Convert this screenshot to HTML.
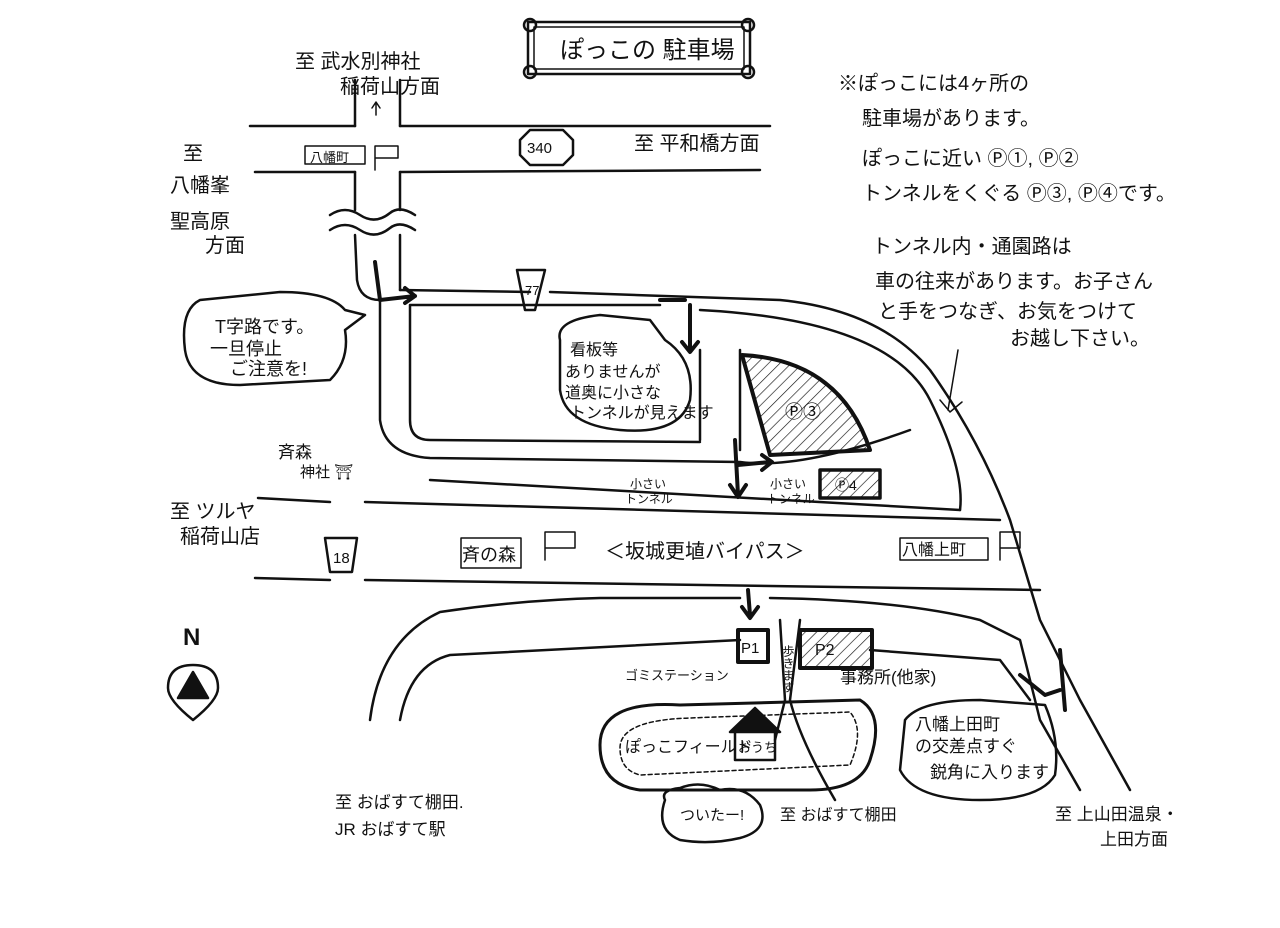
<!DOCTYPE html>
<html><head><meta charset="utf-8"><style>
html,body{margin:0;padding:0;background:#fff;}
svg{display:block}
text{font-family:"Liberation Sans","Noto Sans CJK JP",sans-serif;fill:#111;}
</style></head><body>
<svg width="1280" height="928" viewBox="0 0 1280 928" xmlns="http://www.w3.org/2000/svg">
<defs>
<pattern id="h" width="8" height="8" patternUnits="userSpaceOnUse" patternTransform="rotate(45)">
<line x1="0" y1="0" x2="0" y2="8" stroke="#111" stroke-width="1.3"/>
</pattern>
</defs>
<g fill="none" stroke="#111" stroke-width="2.5" stroke-linecap="round" stroke-linejoin="round">
<rect x="528" y="22" width="222" height="52"/>
<rect x="534" y="27" width="210" height="42" stroke-width="1.5"/>
<circle cx="530" cy="25" r="6"/><circle cx="748" cy="25" r="6"/><circle cx="530" cy="72" r="6"/><circle cx="748" cy="72" r="6"/>
<path d="M250 126 L355 126 M400 126 L770 126"/>
<path d="M255 172 L355 172 M400 172 L760 170"/>
<path d="M355 80 L355 126 M400 80 L400 126"/>
<path d="M355 172 L355 210 M355 235 L357 280 Q360 300 380 300"/>
<path d="M400 172 L400 210 M400 235 L400 290"/>
<path d="M330 215 Q345 205 360 215 Q375 225 390 213 Q400 205 415 215"/>
<path d="M330 230 Q345 220 360 230 Q375 240 390 228 Q400 220 415 230"/>
<path d="M400 290 L530 292 M550 292 L780 300 Q880 310 930 370 Q980 440 1010 520 L1040 620 Q1060 660 1080 700 L1130 790"/>
<path d="M380 300 L380 420 Q385 455 430 458 L740 462 Q800 470 910 430"/>
<path d="M410 305 L660 305 M410 305 L410 420 Q410 440 430 440 L700 442"/>
<path d="M700 310 Q890 320 930 400 Q965 470 960 510"/>
<path d="M700 350 L700 440 M740 350 L740 450"/>
<path d="M430 480 L960 510"/>
<path d="M258 498 L330 502 M365 502 L1000 520"/>
<path d="M255 578 L330 580 M365 580 L1040 590"/>
<path d="M370 720 Q380 640 440 612 Q520 600 600 598 L740 598 M770 598 Q900 600 980 620 L1020 640 L1040 720 L1080 790"/>
<path d="M400 720 Q410 665 450 655 L740 640 M870 650 L1000 660 L1030 700"/>
<path d="M780 620 L785 700 L775 740 M800 620 L790 700 Q800 740 835 800"/>
<path d="M742 355 Q840 360 870 450 L770 455 Z" stroke-width="4" fill="url(#h)"/>
<rect x="820" y="470" width="60" height="28" stroke-width="3.5" fill="url(#h)"/>
<rect x="738" y="630" width="30" height="32" stroke-width="4"/>
<rect x="800" y="630" width="72" height="38" stroke-width="4" fill="url(#h)"/>
<path d="M600 745 Q600 700 680 705 L860 700 Q885 715 870 760 Q860 790 810 790 L640 790 Q600 785 600 745 Z" stroke-width="3"/>
<path d="M620 748 Q620 720 690 718 L850 712 Q865 730 850 765 L640 775 Q620 770 620 748 Z" stroke-width="1.5" stroke-dasharray="4 3"/>
<rect x="735" y="730" width="40" height="30"/>
<polygon points="730,732 755,708 780,732" fill="#111"/>
<path d="M200 300 Q180 310 185 350 Q190 385 240 385 L330 380 Q350 360 345 330 L365 315 L345 310 Q330 292 280 292 Z"/>
<path d="M560 340 Q555 320 600 315 L650 320 L665 340 Q695 360 690 400 Q680 435 620 430 Q565 425 560 390 Z"/>
<path d="M905 720 Q920 700 980 700 L1045 705 Q1060 740 1055 775 Q1040 800 980 800 Q915 800 900 770 Z"/>
<path d="M665 800 Q660 790 680 788 Q700 780 720 790 Q745 785 760 805 Q770 830 740 838 Q710 845 680 840 Q655 830 665 800 Z"/>
<path d="M193 720 Q168 700 168 688 Q168 665 193 665 Q218 665 218 688 Q218 700 193 720 Z"/>
<polygon points="178,698 193,672 208,698" fill="#111"/>
<path d="M520 140 L530 130 L563 130 L573 140 L573 155 L563 165 L530 165 L520 155 Z"/>
<path d="M517 270 L545 270 L535 310 L525 310 Z"/>
<path d="M325 538 L357 538 L352 572 L330 572 Z"/>
<rect x="305" y="146" width="60" height="18" stroke-width="1.5"/>
<rect x="461" y="538" width="60" height="30" stroke-width="1.5"/>
<rect x="900" y="538" width="88" height="22" stroke-width="1.5"/>
<path d="M375 170 L375 146 L398 146 L398 158 L375 158" stroke-width="1.5"/>
<path d="M545 560 L545 532 L575 532 L575 548 L545 548" stroke-width="1.5"/>
<path d="M1000 560 L1000 532 L1020 532 L1020 548 L1000 548" stroke-width="1.5"/>
<path d="M375 262 L380 300 L415 296 M405 288 L415 296 L405 303" stroke-width="4"/>
<path d="M660 300 L685 300 M690 305 L690 350 M682 342 L690 352 L698 342" stroke-width="4"/>
<path d="M735 440 L738 495 M730 485 L738 497 L746 485" stroke-width="4"/>
<path d="M738 465 L770 462 M762 455 L772 462 L762 470" stroke-width="4"/>
<path d="M748 590 L750 615 M742 607 L750 618 L758 607" stroke-width="4"/>
<path d="M1060 650 L1065 710 M1020 675 L1045 695 L1060 690" stroke-width="4"/>
<path d="M376 115 L376 103 M372 108 L376 102 L380 108" stroke-width="1.5"/>
<path d="M958 350 L948 410 M940 400 L950 412 L962 402" stroke-width="1.5"/>
</g>
<g font-size="20">
<text x="560" y="58" font-size="24">ぽっこの 駐車場</text>
<text x="295" y="68">至 武水別神社</text>
<text x="340" y="93">稲荷山方面</text>
<text x="634" y="150">至 平和橋方面</text>
<text x="183" y="160">至</text>
<text x="170" y="192">八幡峯</text>
<text x="170" y="228">聖高原</text>
<text x="205" y="252">方面</text>
<text x="310" y="162" font-size="13">八幡町</text>
<text x="527" y="153" font-size="15">340</text>
<text x="525" y="295" font-size="13">77</text>
<text x="333" y="563" font-size="15">18</text>
<text x="215" y="333" font-size="18">T字路です。</text>
<text x="210" y="355" font-size="18">一旦停止</text>
<text x="230" y="375" font-size="18">ご注意を!</text>
<text x="570" y="355" font-size="16">看板等</text>
<text x="565" y="377" font-size="16">ありませんが</text>
<text x="565" y="398" font-size="16">道奥に小さな</text>
<text x="570" y="418" font-size="16">トンネルが見えます</text>
<text x="838" y="90">※ぽっこには4ヶ所の</text>
<text x="862" y="125">駐車場があります。</text>
<text x="862" y="165">ぽっこに近い Ⓟ①, Ⓟ②</text>
<text x="862" y="200">トンネルをくぐる Ⓟ③, Ⓟ④です。</text>
<text x="872" y="253">トンネル内・通園路は</text>
<text x="875" y="288">車の往来があります。お子さん</text>
<text x="878" y="318">と手をつなぎ、お気をつけて</text>
<text x="1010" y="345">お越し下さい。</text>
<text x="278" y="458" font-size="17">斉森</text>
<text x="300" y="477" font-size="15">神社 ⛩</text>
<text x="170" y="518">至 ツルヤ</text>
<text x="180" y="543">稲荷山店</text>
<text x="462" y="561" font-size="18">斉の森</text>
<text x="605" y="558">＜坂城更埴バイパス＞</text>
<text x="902" y="555" font-size="16">八幡上町</text>
<text x="630" y="488" font-size="12">小さい</text>
<text x="625" y="503" font-size="12">トンネル</text>
<text x="770" y="488" font-size="12">小さい</text>
<text x="767" y="503" font-size="12">トンネル</text>
<text x="785" y="418" font-size="18">Ⓟ③</text>
<text x="835" y="490" font-size="14">Ⓟ4</text>
<text x="741" y="653" font-size="15">P1</text>
<text x="815" y="655" font-size="16">P2</text>
<text x="625" y="680" font-size="13">ゴミステーション</text>
<text x="840" y="683" font-size="17">事務所(他家)</text>
<text x="788" y="645" font-size="12" writing-mode="tb">歩きます</text>
<text x="625" y="752" font-size="16">ぽっこフィールド</text>
<text x="738" y="752" font-size="13">おうち</text>
<text x="680" y="820" font-size="15">ついたー!</text>
<text x="780" y="820" font-size="16">至 おばすて棚田</text>
<text x="335" y="808" font-size="17">至 おばすて棚田.</text>
<text x="335" y="835" font-size="17">JR おばすて駅</text>
<text x="915" y="730" font-size="17">八幡上田町</text>
<text x="915" y="752" font-size="17">の交差点すぐ</text>
<text x="930" y="778" font-size="17">鋭角に入ります</text>
<text x="1055" y="820" font-size="17">至 上山田温泉・</text>
<text x="1100" y="845" font-size="17">上田方面</text>
<text x="183" y="645" font-size="24" font-weight="bold">N</text>
</g>
</svg>
</body></html>
